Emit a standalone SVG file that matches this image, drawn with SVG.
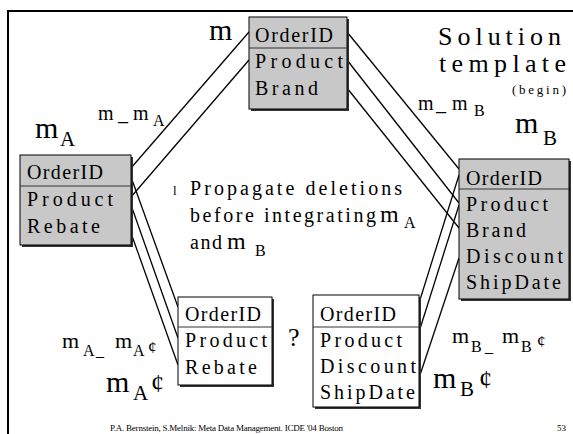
<svg xmlns="http://www.w3.org/2000/svg" width="573" height="434" viewBox="0 0 573 434">
<style>
text{font-family:"Liberation Serif","Times New Roman",serif;fill:#000}
.bt{font-size:20px}
.g{fill:#c8c8c8;stroke:#000;stroke-width:1}
.w{fill:#fff;stroke:#000;stroke-width:1}
.sh{fill:#333}
.dv{stroke:#333;stroke-width:1}
.cn line{stroke:#000;stroke-width:1.3}
.lb{font-size:20px}
.big{font-size:30px}
</style>
<rect x="0" y="0" width="573" height="434" fill="#fff"/>
<path d="M8,434 V11 H573" fill="none" stroke="#000" stroke-width="2"/>

<g id="connectors" class="cn">
<line x1="249" y1="32" x2="131" y2="168"/>
<line x1="249" y1="60" x2="131" y2="197"/>
<line x1="347" y1="32" x2="459" y2="169"/>
<line x1="347" y1="60" x2="459" y2="203"/>
<line x1="347" y1="88" x2="459" y2="228"/>
<line x1="131" y1="177" x2="178" y2="307"/>
<line x1="131" y1="205" x2="178" y2="338"/>
<line x1="131" y1="233" x2="178" y2="365"/>
<line x1="459" y1="175" x2="419" y2="303"/>
<line x1="459" y1="205" x2="419" y2="332"/>
<line x1="459" y1="258" x2="419" y2="378"/>
</g>

<g id="node-m">
<rect class="sh" x="251" y="19" width="98" height="92"/>
<rect class="g" x="249" y="17" width="98" height="92"/>
<line class="dv" x1="249" y1="48" x2="347" y2="48"/>
<text class="bt" x="255" y="42" textLength="78">OrderID</text>
<text class="bt" x="255" y="68" textLength="88">Product</text>
<text class="bt" x="255" y="95" textLength="63">Brand</text>
</g>

<g id="node-mA">
<rect class="sh" x="22" y="157" width="111" height="90"/>
<rect class="g" x="20" y="155" width="111" height="90"/>
<line class="dv" x1="20" y1="186" x2="131" y2="186"/>
<text class="bt" x="27" y="179" textLength="76">OrderID</text>
<text class="bt" x="27" y="206" textLength="86">Product</text>
<text class="bt" x="27" y="233" textLength="73">Rebate</text>
</g>

<g id="node-mB">
<rect class="sh" x="461" y="161" width="110" height="140"/>
<rect class="g" x="459" y="159" width="110" height="140"/>
<line class="dv" x1="459" y1="189" x2="569" y2="189"/>
<text class="bt" x="466" y="185" textLength="76">OrderID</text>
<text class="bt" x="466" y="211" textLength="82">Product</text>
<text class="bt" x="466" y="237" textLength="60">Brand</text>
<text class="bt" x="466" y="263" textLength="97">Discount</text>
<text class="bt" x="466" y="289" textLength="95">ShipDate</text>
</g>

<g id="node-mA-prime">
<rect class="sh" x="180" y="299" width="94" height="88"/>
<rect class="w" x="178" y="297" width="94" height="88"/>
<line class="dv" x1="178" y1="327" x2="272" y2="327"/>
<text class="bt" x="185" y="321" textLength="76">OrderID</text>
<text class="bt" x="185" y="347" textLength="82">Product</text>
<text class="bt" x="185" y="374" textLength="72">Rebate</text>
</g>

<g id="node-mB-prime">
<rect class="sh" x="315" y="297" width="106" height="112"/>
<rect class="w" x="313" y="295" width="106" height="112"/>
<line class="dv" x1="313" y1="327" x2="419" y2="327"/>
<text class="bt" x="320" y="321" textLength="76">OrderID</text>
<text class="bt" x="320" y="347" textLength="82">Product</text>
<text class="bt" x="320" y="373" textLength="96">Discount</text>
<text class="bt" x="320" y="399" textLength="95">ShipDate</text>
</g>

<g id="labels">
<text class="big" x="209" y="40">m</text>
<text class="lb"><tspan x="98" y="120">m</tspan><tspan x="118" y="120">_</tspan><tspan x="133" y="120">m</tspan><tspan x="153" y="126" font-size="16">A</tspan></text>
<text class="big"><tspan x="35" y="138">m</tspan><tspan x="60" y="146" font-size="21">A</tspan></text>
<text x="438" y="45" font-size="26" textLength="123">Solution</text>
<text x="439" y="72" font-size="26" textLength="127">template</text>
<text x="512" y="94" font-size="13" textLength="54">(begin)</text>
<text class="lb"><tspan x="418" y="110">m</tspan><tspan x="436" y="110">_</tspan><tspan x="452" y="110">m</tspan><tspan x="474" y="116" font-size="16">B</tspan></text>
<text class="big"><tspan x="515" y="133">m</tspan><tspan x="543" y="145" font-size="21">B</tspan></text>
<text x="173" y="195" font-size="13">l</text>
<text x="190" y="195" font-size="20" textLength="212">Propagate deletions</text>
<text x="190" y="222" font-size="20" textLength="186">before integrating</text>
<text><tspan x="380" y="222" font-size="24">m</tspan><tspan x="404" y="228" font-size="16">A</tspan></text>
<text x="190" y="249" font-size="20" textLength="32">and</text>
<text><tspan x="227" y="249" font-size="24">m</tspan><tspan x="255" y="256" font-size="16">B</tspan></text>
<text x="288" y="346" font-size="26">?</text>
<text><tspan x="62" y="348" font-size="22">m</tspan><tspan x="83" y="356" font-size="16">A</tspan><tspan x="96" y="356" font-size="16">_</tspan><tspan x="115" y="348" font-size="22">m</tspan><tspan x="133" y="356" font-size="16">A</tspan><tspan x="148" y="353" font-size="17">¢</tspan></text>
<text class="big"><tspan x="106" y="392">m</tspan><tspan x="133" y="400" font-size="21">A</tspan><tspan x="151" y="392" font-size="26">¢</tspan></text>
<text><tspan x="452" y="343" font-size="22">m</tspan><tspan x="471" y="352" font-size="16">B</tspan><tspan x="485" y="352" font-size="16">_</tspan><tspan x="502" y="343" font-size="22">m</tspan><tspan x="521" y="352" font-size="16">B</tspan><tspan x="537" y="347" font-size="17">¢</tspan></text>
<text class="big"><tspan x="433" y="388">m</tspan><tspan x="460" y="396" font-size="21">B</tspan><tspan x="479" y="388" font-size="26">¢</tspan></text>
<text x="110" y="431" font-size="9" textLength="233">P.A. Bernstein, S.Melnik: Meta Data Management. ICDE '04 Boston</text>
<text x="557" y="431" font-size="9">53</text>
</g>
</svg>
